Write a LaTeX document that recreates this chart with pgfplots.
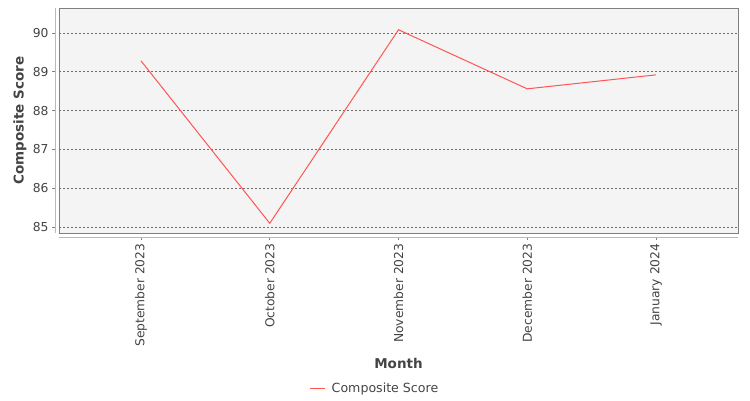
\documentclass[border=0pt]{standalone}
\usepackage{fontspec}
\setmainfont{DejaVu Sans}
\usepackage{pgfplots}
\pgfplotsset{compat=1.18}
\definecolor{plotbg}{RGB}{244,244,244}
\definecolor{txt}{RGB}{68,68,68}
\definecolor{ser}{RGB}{255,85,85}
\definecolor{frame}{RGB}{128,128,128}
\definecolor{gridc}{RGB}{110,110,110}

\begin{document}
\begin{tikzpicture}
\useasboundingbox (0,0) rectangle (750pt,400pt);
\begin{axis}[
    at={(59pt,167pt)}, anchor=south west,
    scale only axis, width=679pt, height=225pt,
    xmin=-0.637, xmax=4.637, ymin=84.85, ymax=90.64,
    axis lines*=left,
    axis x line shift=4pt, axis y line shift=4pt,
    axis line style={draw=gray!55, line width=0.8pt, -},
    axis background/.style={fill=plotbg, draw=frame, line width=1pt},
    xtick=data,
    xticklabels={September 2023, October 2023, November 2023, December 2023, January 2024},
    ytick={85,86,87,88,89,90},
    tick align=outside, major tick length=3pt,
    tick style={draw=gray, line width=0.6pt},
    ymajorgrids,
    grid style={draw=gridc, line width=0.5pt, dash pattern=on 2pt off 2pt},
    /pgf/number format/assume math mode=true,
    tick label style={font=\fontsize{12.3}{14}\selectfont, text=txt},
    xticklabel style={rotate=90, anchor=east},
    xlabel={Month}, ylabel={Composite Score},
    label style={font=\fontsize{13.5}{16}\selectfont\bfseries, text=txt},
    xlabel style={at={(axis description cs:0.5,-0.582)}, anchor=center},
    ylabel style={at={(axis description cs:-0.0574,0.5)}, anchor=center, rotate=0},
    legend style={at={(axis description cs:0.4654,-0.693)}, anchor=center,
        draw=none, fill=none, font=\fontsize{12.6}{14}\selectfont, text=txt},
    legend image code/.code={\draw[ser, line width=1pt] (0pt,0pt) -- (15pt,0pt); \path (19pt,0pt);},
]
\addplot[ser, line width=1pt] coordinates {
    (0,89.28) (1,85.10) (2,90.08) (3,88.56) (4,88.92)
};
\addlegendentry{Composite Score}
\end{axis}
\end{tikzpicture}
\end{document}
